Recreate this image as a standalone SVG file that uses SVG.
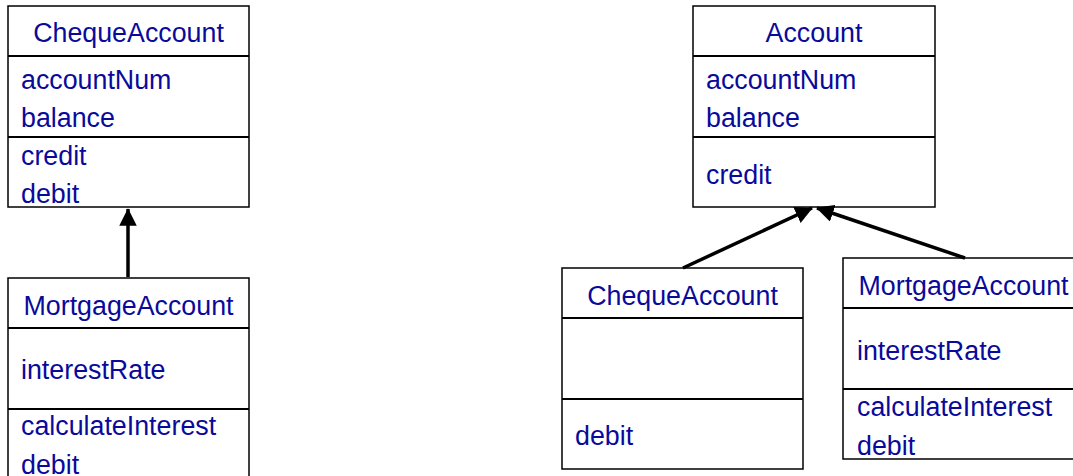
<svg xmlns="http://www.w3.org/2000/svg" width="1073" height="476" viewBox="0 0 1073 476">
<defs>
<marker id="arr" viewBox="0 0 10 10" refX="9.5" refY="5" markerWidth="5" markerHeight="5" orient="auto" markerUnits="strokeWidth">
<path d="M0,0 L10,5 L0,10 z" fill="#000"/>
</marker>
<style>
.box{fill:#fff;stroke:#000;stroke-width:1.5}
.div{stroke:#000;stroke-width:2}
.t{font-family:"Liberation Sans",Arial,sans-serif;font-size:26.8px;fill:#0a0a9a}
.c{text-anchor:middle}
.edge{stroke:#000;stroke-width:3.5;fill:none;marker-end:url(#arr)}
</style>
</defs>
<rect width="1073" height="476" fill="#fff"/>
<g id="left-cheque">
<rect class="box" x="8" y="6" width="241" height="201"/>
<line class="div" x1="8" y1="56" x2="249" y2="56"/>
<line class="div" x1="8" y1="137" x2="249" y2="137"/>
<text class="t c" x="128.5" y="41.5">ChequeAccount</text>
<text class="t" x="21" y="88.5">accountNum</text>
<text class="t" x="21" y="126.5">balance</text>
<text class="t" x="21" y="164.5">credit</text>
<text class="t" x="21" y="202.5">debit</text>
</g>
<g id="left-mortgage">
<rect class="box" x="8" y="278" width="241" height="210"/>
<line class="div" x1="8" y1="328" x2="249" y2="328"/>
<line class="div" x1="8" y1="409" x2="249" y2="409"/>
<text class="t c" x="128.5" y="314.5">MortgageAccount</text>
<text class="t" x="21" y="378.5">interestRate</text>
<text class="t" x="21" y="434.5">calculateInterest</text>
<text class="t" x="21" y="473.5">debit</text>
</g>
<g id="account">
<rect class="box" x="693" y="6" width="242" height="201"/>
<line class="div" x1="693" y1="56" x2="935" y2="56"/>
<line class="div" x1="693" y1="137" x2="935" y2="137"/>
<text class="t c" x="814" y="41.5">Account</text>
<text class="t" x="706" y="88.5">accountNum</text>
<text class="t" x="706" y="126.5">balance</text>
<text class="t" x="706" y="183.5">credit</text>
</g>
<g id="right-cheque">
<rect class="box" x="562" y="268" width="241" height="201"/>
<line class="div" x1="562" y1="318" x2="803" y2="318"/>
<line class="div" x1="562" y1="399" x2="803" y2="399"/>
<text class="t c" x="682.5" y="304.5">ChequeAccount</text>
<text class="t" x="575" y="444.5">debit</text>
</g>
<g id="right-mortgage">
<rect class="box" x="843" y="258" width="241" height="201"/>
<line class="div" x1="843" y1="308" x2="1084" y2="308"/>
<line class="div" x1="843" y1="389" x2="1084" y2="389"/>
<text class="t c" x="963.5" y="294.5">MortgageAccount</text>
<text class="t" x="857" y="359.5">interestRate</text>
<text class="t" x="857" y="415.5">calculateInterest</text>
<text class="t" x="857" y="454.5">debit</text>
</g>
<g id="connectors">
<line class="edge" x1="128" y1="277" x2="128" y2="209"/>
<line class="edge" x1="683" y1="268" x2="812" y2="208"/>
<line class="edge" x1="965" y1="258" x2="817" y2="208"/>
</g>
</svg>
